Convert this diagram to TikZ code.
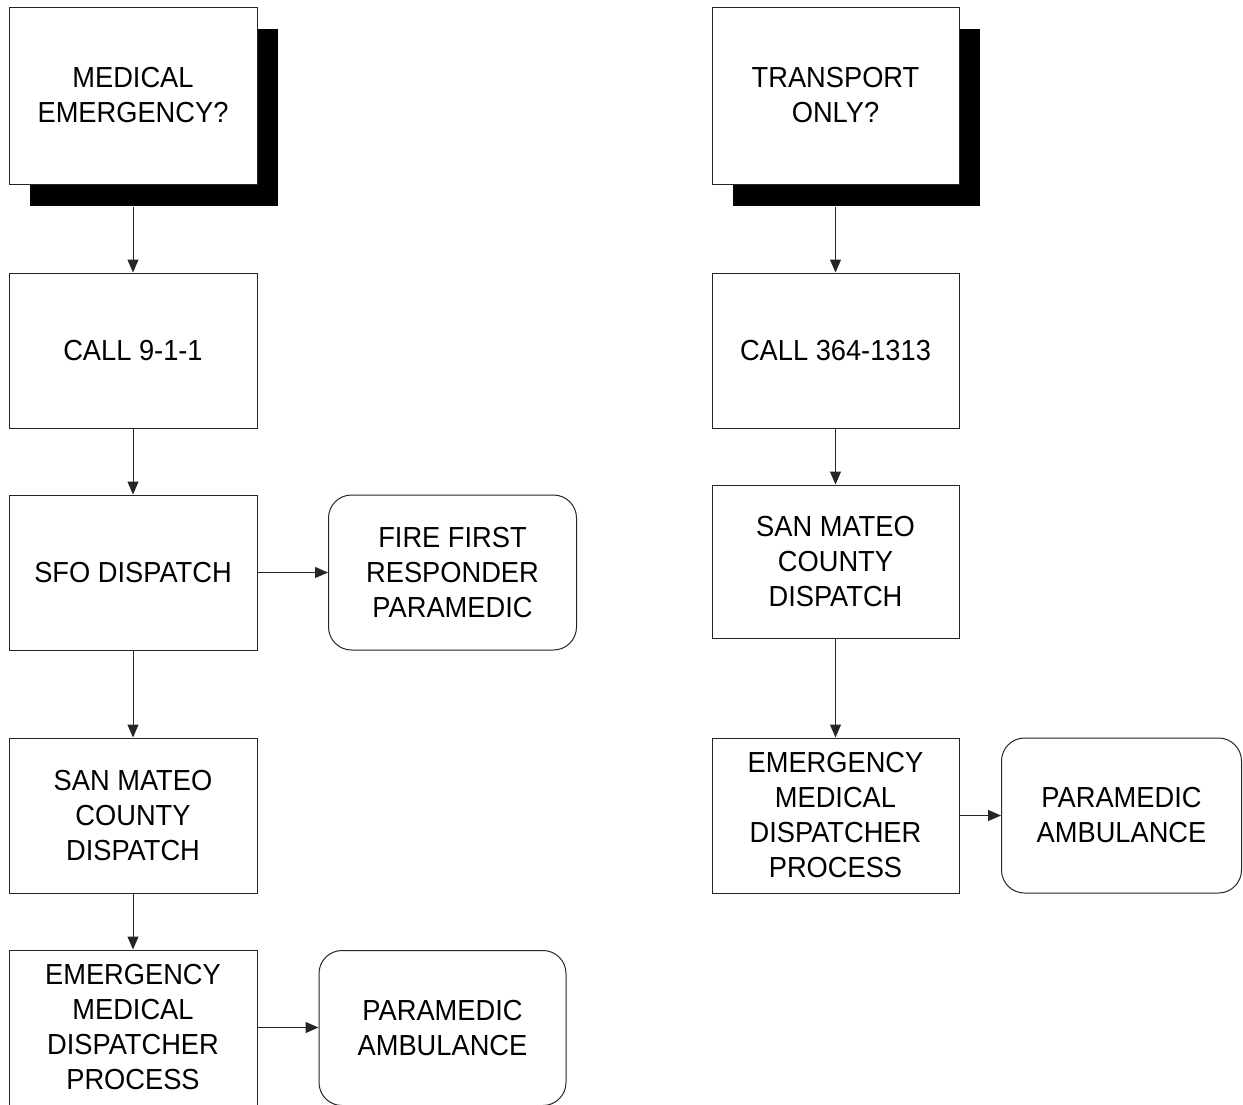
\documentclass[tikz,border=0pt]{standalone}
\usepackage{fontspec}
\setmainfont{Liberation Sans}[FakeStretch=0.94]
\usetikzlibrary{arrows.meta,shadows}
\begin{document}
\begin{tikzpicture}[x=1pt,y=-1pt,
  every node/.style={font=\fontsize{29}{35}\selectfont, align=center, inner sep=0pt},
  box/.style={draw=black!85, line width=1pt, fill=white, rectangle, minimum width=248pt, minimum height=155pt},
  qbox/.style={box, minimum height=177pt, drop shadow={shadow xshift=21pt, shadow yshift=-22pt, fill=black, opacity=1}},
  rbox/.style={box, rounded corners=23pt},
  arr/.style={draw=black!85, line width=1pt, -{Triangle[length=13pt,width=11pt]}}
]
\useasboundingbox (0,0) rectangle (1243,1104);
% left column
\node[qbox] (q1) at (133,95.5) {MEDICAL\\EMERGENCY?};
\node[box] (c911) at (133,350.5) {CALL 9-1-1};
\node[box] (sfo) at (133,572.5) {SFO DISPATCH};
\node[rbox] (fire) at (452.5,572.5) {FIRE FIRST\\RESPONDER\\PARAMEDIC};
\node[box] (smL) at (133,815.5) {SAN MATEO\\COUNTY\\DISPATCH};
\node[box] (emdL) at (133,1027.5) {EMERGENCY\\MEDICAL\\DISPATCHER\\PROCESS};
\node[rbox, minimum width=247pt, minimum height=155pt] (ambL) at (442.5,1028) {PARAMEDIC\\AMBULANCE};
% right column
\node[qbox, minimum width=247pt] (q2) at (835.5,95.5) {TRANSPORT\\ONLY?};
\node[box, minimum width=247pt] (c364) at (835.5,350.5) {CALL 364-1313};
\node[box, minimum width=247pt, minimum height=153pt] (smR) at (835.5,561.5) {SAN MATEO\\COUNTY\\DISPATCH};
\node[box, minimum width=247pt] (emdR) at (835.5,815.5) {EMERGENCY\\MEDICAL\\DISPATCHER\\PROCESS};
\node[rbox, minimum width=240pt] (ambR) at (1121.5,815.5) {PARAMEDIC\\AMBULANCE};
% connectors
\draw[arr] (q1.south) ++(0,22) coordinate (q1s) -- (c911.north);
\draw[arr] (c911) -- (sfo);
\draw[arr] (sfo) -- (fire);
\draw[arr] (sfo) -- (smL);
\draw[arr] (smL) -- (emdL);
\draw[arr] (emdL.east) -- (ambL.west |- emdL.east);
\draw[arr] (q2.south) ++(0,22) coordinate (q2s) -- (c364.north);
\draw[arr] (c364) -- (smR);
\draw[arr] (smR) -- (emdR);
\draw[arr] (emdR) -- (ambR);
\end{tikzpicture}
\end{document}
